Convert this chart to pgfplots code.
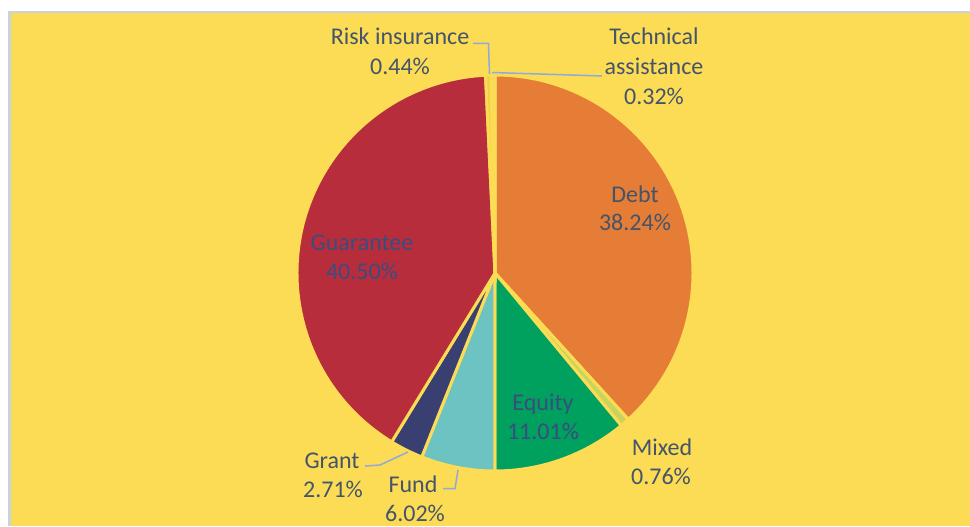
\documentclass[border=0pt]{standalone}
\usepackage{pgfplots}
\pgfplotsset{compat=1.18}
\usepackage{pgfplotstable}
\usepackage{fontspec}
\setmainfont{Carlito}

\definecolor{bg}{HTML}{FCDB55}
\definecolor{frame}{HTML}{C8D3E2}
\definecolor{cDebt}{HTML}{E57D36}
\definecolor{cMixed}{HTML}{C9D45C}
\definecolor{cEquity}{HTML}{00A05F}
\definecolor{cFund}{HTML}{6CC3C2}
\definecolor{cGrant}{HTML}{3A3F72}
\definecolor{cGuar}{HTML}{B82D3C}
\definecolor{cRisk}{HTML}{F0CE45}
\definecolor{cTech}{HTML}{F4D766}
\definecolor{lbl}{HTML}{44546A}
\definecolor{lblin}{HTML}{3B4C80}
\definecolor{leader}{HTML}{8FAADC}

% shares, clockwise from 12 o'clock
\pgfplotstableread[col sep=comma]{
value,color
38.24,cDebt
0.76,cMixed
11.01,cEquity
6.02,cFund
2.71,cGrant
40.50,cGuar
0.44,cRisk
0.32,cTech
}\piedata

\tikzset{lab/.style={font=\fontsize{24.1}{29}\selectfont,text=lbl,anchor=base,inner sep=0pt},
  labin/.style={lab,text=lblin}}

\begin{document}
\begin{tikzpicture}
\begin{axis}[width=970bp,height=526bp,scale only axis,hide axis,clip=false,
  xmin=0,xmax=970,ymin=0,ymax=526,y dir=reverse]
\fill[white] (axis cs:0,0) rectangle (axis cs:970,526);
\fill[frame] (axis cs:8,11) rectangle (axis cs:970,526);
\fill[bg] (axis cs:11,13.5) rectangle (axis cs:970,526);

\pgfplotstablegetrowsof{\piedata}
\pgfmathtruncatemacro{\N}{\pgfplotsretval-1}
\def\cum{0}
\pgfplotsforeachungrouped \i in {0,...,\N}{%
  \pgfplotstablegetelem{\i}{value}\of\piedata \let\v=\pgfplotsretval
  \pgfplotstablegetelem{\i}{color}\of\piedata \let\c=\pgfplotsretval
  \pgfmathsetmacro{\aone}{90-3.6*\cum}
  \pgfmathsetmacro{\atwo}{90-3.6*(\cum+\v)}
  \edef\temp{\noexpand\fill[\c,draw=bg,line width=3bp,line join=round] (axis cs:495,273) -- ++(\aone:198bp) arc[start angle=\aone,end angle=\atwo,radius=198bp] -- cycle;}%
  \temp
  \pgfmathsetmacro{\cum}{\cum+\v}%
}

% leader lines
\draw[leader,line width=1.5bp] (axis cs:473,43.5) -- (axis cs:488.5,43.5) -- (axis cs:489.5,74);
\draw[leader,line width=1.5bp] (axis cs:492,72.5) -- (axis cs:602,76);
\draw[leader,line width=1.5bp] (axis cs:365,466) -- (axis cs:380,465) -- (axis cs:408,452);
\draw[leader,line width=1.5bp] (axis cs:443,488.5) -- (axis cs:455,488.5) -- (axis cs:458,470);

% labels
\node[lab] at (axis cs:400,45) {Risk insurance};
\node[lab] at (axis cs:400,75) {0.44\%};
\node[lab] at (axis cs:654,45) {Technical};
\node[lab] at (axis cs:654,75) {assistance};
\node[lab] at (axis cs:654,104) {0.32\%};
\node[lab] at (axis cs:635,202) {Debt};
\node[lab] at (axis cs:635,230) {38.24\%};
\node[labin] at (axis cs:362,250) {Guarantee};
\node[labin] at (axis cs:362,279) {40.50\%};
\node[labin] at (axis cs:543,410) {Equity};
\node[labin] at (axis cs:543,439) {11.01\%};
\node[lab] at (axis cs:662,455) {Mixed};
\node[lab] at (axis cs:661,484) {0.76\%};
\node[lab] at (axis cs:332,468) {Grant};
\node[lab] at (axis cs:333,497) {2.71\%};
\node[lab] at (axis cs:413,492) {Fund};
\node[lab] at (axis cs:415,521) {6.02\%};
\end{axis}
\end{tikzpicture}
\end{document}
